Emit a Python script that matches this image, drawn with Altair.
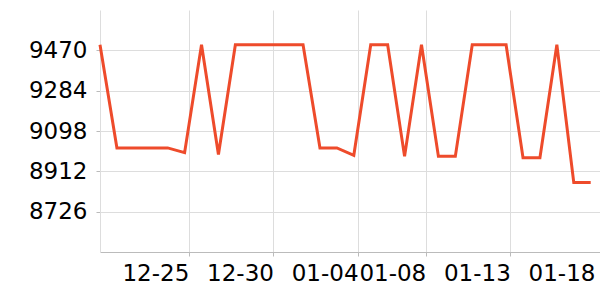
import altair as alt
import pandas as pd

dates = [
    "2023-12-19T18:00", "2023-12-20T18:00", "2023-12-21T18:00", "2023-12-22T18:00",
    "2023-12-23T18:00", "2023-12-24T18:00", "2023-12-25T18:00", "2023-12-26T18:00",
    "2023-12-27T18:00", "2023-12-28T18:00", "2023-12-29T18:00", "2023-12-30T18:00",
    "2023-12-31T18:00", "2024-01-01T18:00", "2024-01-02T18:00", "2024-01-03T18:00",
    "2024-01-04T18:00", "2024-01-05T18:00", "2024-01-06T18:00", "2024-01-07T18:00",
    "2024-01-08T18:00", "2024-01-09T18:00", "2024-01-10T18:00", "2024-01-11T18:00",
    "2024-01-12T18:00", "2024-01-13T18:00", "2024-01-14T18:00", "2024-01-15T18:00",
    "2024-01-16T18:00", "2024-01-17T18:00",
]
values = [
    9496, 9020, 9020, 9020, 9020, 8998, 9496, 8990, 9496, 9496,
    9496, 9496, 9496, 9020, 9020, 8986, 9496, 9496, 8981, 9496,
    8981, 8981, 9496, 9496, 9496, 8975, 8975, 9496, 8860, 8860,
]
y_ticks = [8726, 8912, 9098, 9284, 9470]
x_tick_dates = [(2023, 12, 25), (2023, 12, 30), (2024, 1, 4), (2024, 1, 8), (2024, 1, 13), (2024, 1, 18)]

df = pd.DataFrame({"date": dates, "value": values})

font = "DejaVu Sans"
edge_test = "month(datum.value) === 0 && date(datum.value) === 18"

chart = alt.Chart(df).mark_line(color="#EE4B2B", strokeWidth=3).encode(
    x=alt.X(
        "date:T",
        title=None,
        scale=alt.Scale(domain=[alt.DateTime(year=2023, month=12, date=19, hours=18),
                                alt.DateTime(year=2024, month=1, date=18, hours=7, minutes=12)]),
        axis=alt.Axis(
            values=[alt.DateTime(year=y, month=m, date=d) for (y, m, d) in x_tick_dates],
            format="%m-%d",
            labelAlign="right",
            labelFlush=False,
            labelOverlap=False,
            labelFont=font,
            labelFontSize=23,
            labelColor="#000000",
            labelPadding=6,
            tickSize=4,
            tickColor="#bbbbbb",
            tickOpacity={"condition": {"test": edge_test, "value": 0}, "value": 1},
            domainColor="#bbbbbb",
            gridColor="#dddddd",
            gridOpacity={"condition": {"test": edge_test, "value": 0}, "value": 1},
        ),
    ),
    y=alt.Y(
        "value:Q",
        title=None,
        scale=alt.Scale(domain=[8540, 9656], nice=False, zero=False),
        axis=alt.Axis(
            values=y_ticks,
            format="d",
            labelFont=font,
            labelFontSize=23,
            labelColor="#000000",
            labelPadding=9,
            tickSize=4,
            tickColor="#bbbbbb",
            domainColor="#dddddd",
            gridColor="#dddddd",
        ),
    ),
).properties(
    width=500,
    height=242,
    padding={"left": 100, "top": 10, "right": 0, "bottom": 48},
    autosize="none",
).configure_view(stroke=None)

chart.save("out.html", embed_options={"renderer": "svg", "actions": False})
